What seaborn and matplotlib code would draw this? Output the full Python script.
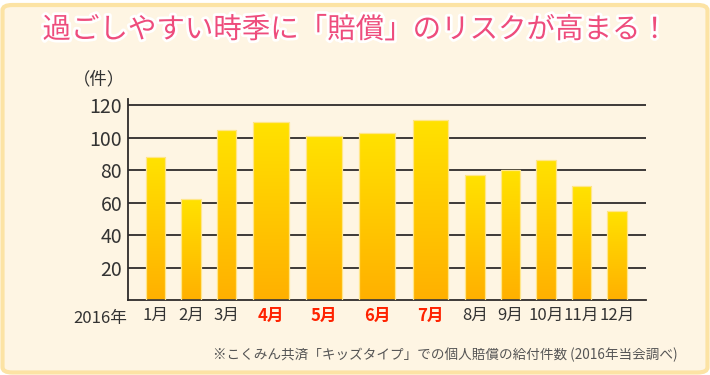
import numpy as np
import pandas as pd
import matplotlib
matplotlib.use('Agg')
import matplotlib.pyplot as plt
import matplotlib.patheffects as pe
from matplotlib.patches import FancyBboxPatch
from matplotlib.colors import LinearSegmentedColormap
import seaborn as sns

# data
months = ['1月', '2月', '3月', '4月', '5月', '6月', '7月', '8月', '9月', '10月', '11月', '12月']
counts = [88, 62, 105, 110, 101, 103, 111, 77, 80, 86, 70, 55]
summer = ['4月', '5月', '6月', '7月']   # highlighted months
y_ticks = [20, 40, 60, 80, 100, 120]

title = '過ごしやすい時季に「賠償」のリスクが高まる！'
unit_label = '（件）'
year_label = '2016年'
note = '※こくみん共済「キッズタイプ」での個人賠償の給付件数 (2016年当会調べ)'

# layout: summer months get a wider slot
slot = np.array([1.5 if m in summer else 1.0 for m in months])
pos = np.cumsum(slot) - slot / 2
df = pd.DataFrame({'month': months, 'count': counts, 'pos': pos,
                   'hot': [m in summer for m in months]})

sns.set_theme(style='white')
plt.rcParams['font.family'] = ['Noto Sans CJK JP', 'DejaVu Sans']

W, H = 710, 375
fig = plt.figure(figsize=(W / 100, H / 100), dpi=100)
fig.patch.set_facecolor('white')

def fx(x):
    return x / W

def fy(y):
    return 1 - y / H

# rounded cream panel
panel = FancyBboxPatch((fx(2.5), fy(372.5)), fx(705), 367.5 / H,
                       boxstyle='round,pad=0,rounding_size=0.014',
                       transform=fig.transFigure, facecolor='#FEF5E3',
                       edgecolor='#FCE3A4', linewidth=3, zorder=-5)
fig.patches.append(panel)

ax = fig.add_axes([fx(127.7), fy(300), fx(645.7 - 127.7), (300 - 99.3) / H])
ax.set_facecolor('none')
ax.set_zorder(2)

sns.barplot(data=df[~df['hot']], x='pos', y='count', native_scale=True,
            width=0.55, color='#FFC800', errorbar=None, ax=ax, zorder=2)
sns.barplot(data=df[df['hot']], x='pos', y='count', native_scale=True,
            width=0.67, color='#FFC800', errorbar=None, ax=ax, zorder=2)

# vertical gradient inside each bar
cmap = LinearSegmentedColormap.from_list('bar', ['#FFB000', '#FFC900', '#FFE200'])
grad = np.linspace(0, 1, 256).reshape(-1, 1)
for p in list(ax.patches):
    x0, w, h = p.get_x(), p.get_width(), p.get_height()
    im = ax.imshow(grad, extent=[x0, x0 + w, 0, h], origin='lower',
                   aspect='auto', cmap=cmap, zorder=2.5)
    im.set_clip_path(p)
    p.set_facecolor('none')
    p.set_edgecolor('#FFE68A')
    p.set_linewidth(0.9)
    p.set_zorder(3)

ax.set_xlim(-0.28, 14.31)
ax.set_ylim(0, 123.7)

# grid lines behind the bars
for v in y_ticks:
    ax.axhline(v, color='#2E2B2B', linewidth=1.3, zorder=1)

ax.set_yticks(y_ticks)
ax.set_yticklabels([str(v) for v in y_ticks], fontsize=14, color='#333333')
ax.set_xticks(pos)
ax.set_xticklabels(months, fontsize=12)
for lbl, m in zip(ax.get_xticklabels(), months):
    if m in summer:
        lbl.set_color('#FF2200')
        lbl.set_fontweight('bold')
    else:
        lbl.set_color('#333333')
ax.tick_params(axis='both', length=0)
ax.tick_params(axis='y', pad=4)
ax.tick_params(axis='x', pad=5)
ax.set_xlabel('')
ax.set_ylabel('')

for s in ['top', 'right']:
    ax.spines[s].set_visible(False)
for s in ['left', 'bottom']:
    ax.spines[s].set_color('#2E2B2B')
    ax.spines[s].set_linewidth(1.3)

fig.text(fx(356), fy(30), title, fontsize=20.5, color='#EE4C7C', ha='center', va='center',
         path_effects=[pe.withStroke(linewidth=4, foreground='white')])
fig.text(fx(99), fy(79), unit_label, fontsize=12.5, color='#333333', ha='center', va='center')
fig.text(fx(127), fy(318), year_label, fontsize=12, color='#333333', ha='right', va='center')
fig.text(fx(678), fy(355), note, fontsize=9.8, color='#555555', ha='right', va='center')

fig.savefig('out.png', dpi=100, facecolor=fig.get_facecolor())
